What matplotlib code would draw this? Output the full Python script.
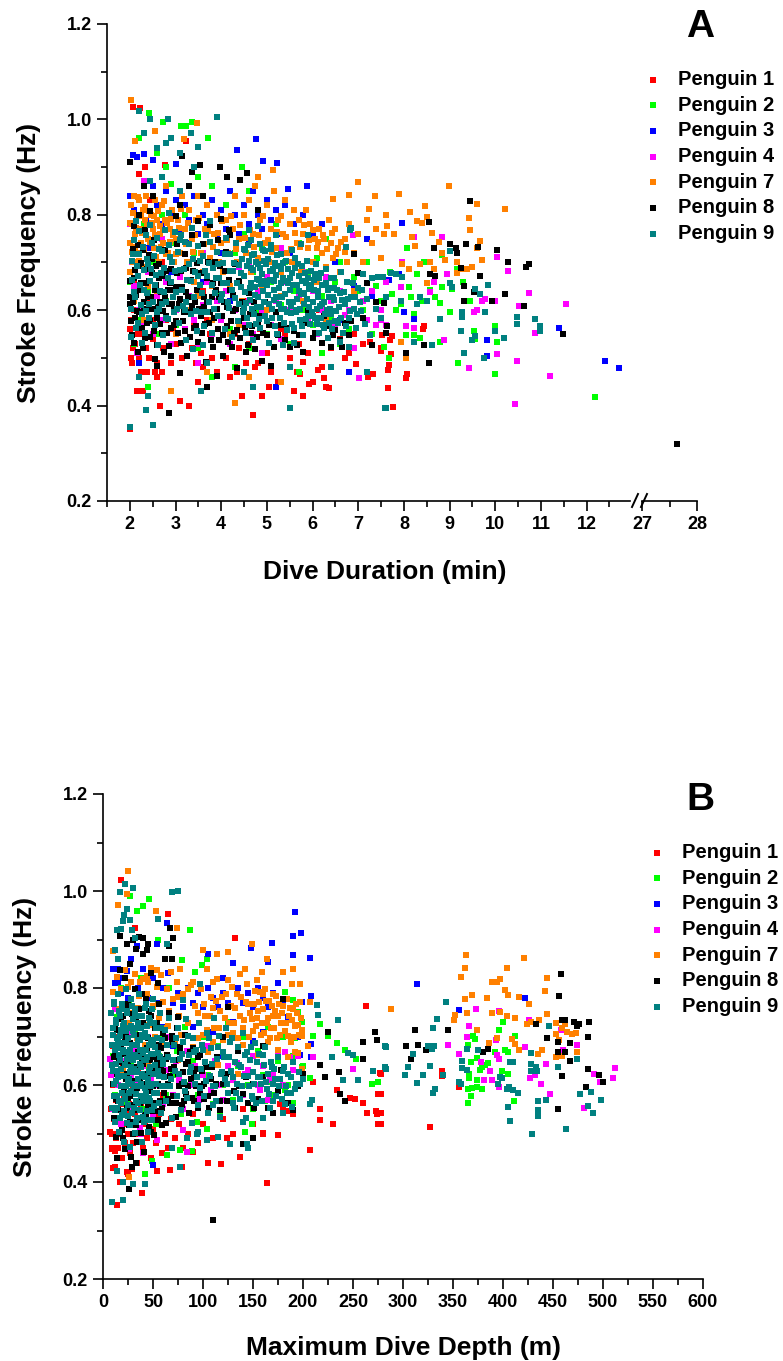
import numpy as np
import matplotlib
matplotlib.use('Agg')
import matplotlib.pyplot as plt
from matplotlib.lines import Line2D
from matplotlib.ticker import MultipleLocator

plt.rcParams['font.family'] = ['Liberation Sans', 'DejaVu Sans']
plt.rcParams['font.weight'] = 'bold'

penguins = ['Penguin 1', 'Penguin 2', 'Penguin 3', 'Penguin 4', 'Penguin 7', 'Penguin 8', 'Penguin 9']
colors = ['#ff0000', '#00ff00', '#0000ff', '#ff00ff', '#ff8000', '#000000', '#008080']

# ---- panel A: (dive duration min, stroke frequency Hz) ----
dur_p1 = [(2.06,1.025),(2.23,1.023),(2.33,.9),(2.77,.905),(3.23,.954),(2.2,.885),(2.45,.83),
    (2.0,.35),(2.0,.56),(2.02,.5),(2.05,.49),(2.1,.6),(2.12,.53),(2.15,.43),(2.2,.5),(2.25,.47),(2.28,.43),(2.3,.55),
    (2.35,.52),(2.38,.47),(2.42,.5),(2.5,.54),(2.55,.47),(2.6,.46),(2.65,.4),(2.7,.47),(2.72,.52),(2.8,.58),(2.9,.49),
    (2.95,.56),(3.0,.53),(3.1,.41),(3.15,.5),(3.3,.4),(3.35,.52),(3.4,.57),(3.5,.45),(3.55,.51),(3.6,.48),(3.75,.55),
    (3.8,.5),(3.9,.47),(4.0,.58),(4.1,.5),(4.2,.46),(4.3,.55),(4.4,.52),(4.45,.42),(4.55,.49),(4.6,.53),(4.7,.38),
    (4.75,.48),(4.8,.49),(4.9,.42),(4.95,.6),(5.0,.51),(5.1,.47),(5.2,.44),(5.25,.45),(5.3,.56),(5.5,.5),(5.6,.43),
    (5.7,.53),(5.79,.492),(5.72,.467),(5.93,.446),(6.11,.474),(6.26,.457),(6.37,.436),(6.95,.488),(7.21,.46),(5.8,.42),
    (5.9,.51),(6.0,.45),(6.1,.55),(6.2,.48),(6.3,.44),(6.4,.52),(6.5,.57),(6.6,.54),(6.7,.5),(6.8,.51),(6.9,.55),
    (7.1,.53),(7.25,.534),(7.69,.537),(7.65,.474),(8.05,.457),(8.42,.56),(7.33,.467),(7.5,.52),(7.66,.437),(7.77,.397),
    (7.53,.548),(7.75,.545),(7.71,.508),(8.44,.567),(7.67,.485),(8.07,.467),(7.49,.515),
    (2.4,.62),(3.0,.6),(3.6,.64),(4.5,.62),(5.5,.6),(2.1,.66),(2.7,.7),(2.03,.58),(2.08,.52),(2.18,.55),(2.5,.58),
    (3.2,.56),(3.7,.58),(4.15,.56),(4.85,.56),(5.4,.55),(6.15,.6),(2.6,.49),(3.45,.49),(4.35,.47),(5.05,.44),(5.65,.47)]
dur_p2 = [(2.42,1.014),(2.73,.995),(3.13,.986),(3.24,.986),(3.35,.995),(3.71,.96),(2.2,.96),(2.6,.93),(2.8,.9),
    (3.5,.88),(4.45,.9),(2.9,.865),(3.8,.86),(4.6,.85),(2.4,.44),(3.8,.46),(4.3,.48),(5.7,.47),(6.2,.51),(6.6,.53),(2.1,.53),
    (2.0,.66),(2.1,.72),(2.2,.58),(2.3,.78),(2.4,.64),(2.5,.7),(2.6,.55),(2.7,.8),(2.8,.62),(2.9,.74),(3.0,.57),(3.1,.68),
    (3.2,.8),(3.3,.6),(3.4,.72),(3.5,.52),(3.6,.66),(3.7,.78),(3.8,.58),(3.9,.7),(4.0,.63),(4.1,.82),(4.2,.56),(4.3,.72),
    (4.4,.66),(4.5,.76),(4.6,.52),(4.7,.68),(4.8,.6),(4.9,.73),(5.0,.55),(5.1,.66),(5.2,.78),(5.3,.61),(5.4,.7),(5.5,.53),
    (5.6,.64),(5.7,.74),(5.8,.6),(5.9,.68),(6.0,.57),(6.1,.71),(6.2,.63),(6.3,.75),(6.4,.58),(6.5,.66),(6.6,.7),(6.7,.62),
    (6.8,.56),(6.9,.67),(7.0,.64),(7.1,.6),(7.2,.7),(7.3,.55),(7.4,.65),(7.5,.62),(7.6,.57),(7.7,.68),
    (8.07,.731),(8.84,.716),(8.44,.701),(8.29,.675),(8.11,.649),(9.16,.686),(8.58,.642),(8.84,.649),(9.05,.645),
    (8.69,.627),(8.8,.616),(8.15,.627),(8.4,.619),(7.93,.612),(9.02,.597),(8.22,.593),(7.82,.6),(8.04,.548),(8.22,.548),
    (8.36,.541),(8.8,.534),(9.53,.556),(9.56,.54),(10.0,.567),(10.04,.534),(10.0,.467),(9.19,.489),(12.18,.417),
    (7.56,.522),(7.67,.5),(7.75,.634),(9.3,.66),(9.45,.62)]
dur_p3 = [(2.07,.925),(2.15,.922),(2.31,.927),(2.51,.915),(3.0,.906),(4.34,.936),(4.77,.958),(4.91,.912),(5.23,.908),
    (5.47,.854),(5.88,.861),(2.0,.84),(2.1,.81),(2.2,.83),(2.35,.79),(2.5,.86),(2.6,.82),(2.7,.78),(2.8,.85),(2.9,.8),
    (3.0,.83),(3.1,.77),(3.2,.82),(3.3,.79),(3.4,.84),(3.5,.76),(3.6,.8),(3.7,.78),(3.8,.83),(3.9,.76),(4.0,.81),(4.1,.77),
    (4.2,.85),(4.3,.8),(4.4,.76),(4.5,.82),(4.6,.78),(4.7,.85),(4.8,.8),(4.9,.77),(5.0,.83),(5.1,.79),(5.2,.81),(5.3,.76),
    (5.4,.82),(5.6,.78),(5.8,.8),(6.0,.76),(6.2,.78),(6.5,.7),(6.9,.65),(7.2,.75),(7.5,.67),(3.3,.74),(4.0,.72),(4.6,.74),
    (5.5,.72),(3.8,.7),(2.4,.73),(2.2,.49),(5.2,.44),(6.8,.47),(3.6,.66),(4.2,.62),(5.0,.6),(2.9,.68),(6.3,.6),
    (7.67,.664),(7.89,.675),(7.96,.782),(8.0,.597),(8.22,.582),(8.57,.638),(9.82,.537),(9.82,.504),(11.4,.563),
    (12.4,.493),(12.71,.478),(7.3,.63),(6.6,.58)]
dur_p4 = [(2.0,.78),(2.02,.82),(2.05,.7),(2.1,.65),(2.15,.51),(2.2,.6),(2.25,.57),(2.3,.87),(2.4,.68),(2.5,.55),
    (2.6,.63),(2.7,.58),(2.8,.66),(2.9,.53),(3.0,.6),(3.1,.67),(3.2,.56),(3.3,.63),(3.4,.58),(3.5,.53),(3.6,.61),(3.7,.66),
    (3.8,.55),(3.9,.62),(4.0,.58),(4.1,.64),(4.2,.53),(4.3,.6),(4.4,.69),(4.5,.57),(4.6,.62),(4.7,.55),(4.8,.64),(4.9,.6),
    (5.0,.67),(5.1,.57),(5.2,.62),(5.3,.54),(5.4,.66),(5.5,.6),(5.6,.56),(5.7,.63),(5.8,.68),(5.9,.58),(6.0,.64),(6.1,.55),
    (6.2,.6),(6.3,.67),(6.4,.62),(6.5,.57),(6.6,.64),(6.7,.59),(6.8,.6),(6.89,.757),(7.01,.457),(7.1,.62),(7.2,.58),
    (7.3,.64),(7.4,.57),(7.5,.6),(7.6,.66),(3.6,.72),(4.6,.7),(5.3,.73),(2.7,.75),(3.5,.49),(4.9,.51),(6.9,.52),
    (8.22,.753),(8.84,.753),(7.96,.701),(8.95,.675),(10.04,.712),(10.29,.683),(10.73,.636),(10.51,.608),(11.54,.612),
    (9.71,.619),(9.78,.623),(10.0,.62),(9.6,.6),(9.53,.597),(8.65,.66),(8.58,.638),(7.93,.649),(8.04,.567),(8.22,.563),
    (10.87,.552),(8.87,.537),(9.42,.478),(10.04,.508),(10.47,.493),(11.2,.463),(10.44,.403),(7.5,.58),(7.6,.57)]
dur_p7 = [(2.02,1.041),(2.55,.975),(2.12,.954),(3.18,.958),(3.48,.992),(5.14,.893),(4.8,.88),(6.99,.869),(6.8,.841),
    (6.45,.834),(7.24,.813),(7.36,.839),(4.3,.405),(4.6,.46),(5.3,.45),(2.9,.43),(3.7,.47),
    (2.0,.74),(2.02,.82),(2.05,.78),(2.08,.7),(2.1,.84),(2.12,.76),(2.15,.8),(2.18,.72),(2.2,.83),(2.22,.77),(2.25,.74),
    (2.28,.81),(2.3,.69),(2.33,.79),(2.36,.84),(2.4,.75),(2.43,.71),(2.46,.8),(2.5,.77),(2.53,.73),(2.56,.83),(2.6,.79),
    (2.63,.7),(2.66,.76),(2.7,.82),(2.73,.74),(2.76,.79),(2.8,.86),(2.84,.72),(2.88,.77),(2.92,.81),(2.96,.7),(3.0,.75),
    (3.05,.79),(3.1,.72),(3.15,.84),(3.2,.77),(3.25,.7),(3.3,.81),(3.35,.75),(3.4,.66),(3.45,.79),(3.5,.84),(3.55,.72),
    (3.6,.68),(3.65,.77),(3.7,.82),(3.75,.71),(3.8,.65),(3.85,.76),(3.9,.8),(3.95,.7),(4.0,.74),(4.05,.68),(4.1,.79),
    (4.15,.72),(4.2,.65),(4.25,.77),(4.3,.84),(4.35,.7),(4.4,.75),(4.45,.62),(4.5,.8),(4.55,.72),(4.6,.83),(4.65,.68),
    (4.7,.76),(4.75,.86),(4.8,.71),(4.85,.79),(4.9,.65),(4.95,.74),(5.0,.82),
    (5.05,.7),(5.1,.77),(5.15,.85),(5.2,.73),(5.25,.79),(5.3,.68),(5.35,.76),(5.4,.83),(5.45,.72),(5.5,.78),(5.55,.7),
    (5.6,.81),(5.65,.74),(5.7,.79),(5.75,.68),(5.8,.76),(5.85,.81),(5.9,.73),(5.95,.78),(6.0,.7),(6.05,.75),(6.1,.73),
    (6.15,.77),(6.2,.72),(6.25,.75),(6.3,.69),(6.35,.79),(6.4,.74),(6.45,.71),(6.5,.77),(6.55,.73),(6.6,.68),(6.7,.75),
    (6.75,.7),(6.8,.78),(6.9,.72),(7.0,.76),(7.1,.7),(7.2,.79),(7.3,.74),(7.4,.77),(7.5,.71),(7.6,.8),
    (2.1,.62),(2.3,.58),(2.6,.64),(3.0,.55),(3.3,.6),(3.8,.58),(4.2,.55),(5.0,.6),(5.8,.62),(6.3,.58),(2.0,.68),(2.4,.65),
    (3.5,.63),(4.4,.57),(5.3,.63),(6.1,.66),(6.9,.64),
    (2.01,.783),(2.04,.722),(2.07,.803),(2.11,.733),(2.14,.772),(2.17,.838),(2.21,.703),(2.24,.797),(2.27,.762),
    (2.31,.728),(2.34,.817),(2.38,.778),(2.41,.807),(2.45,.743),(2.48,.782),(2.52,.798),(2.55,.757),(2.58,.712),
    (2.62,.808),(2.65,.777),(2.69,.732),(2.72,.768),(2.75,.828),(2.79,.718),(2.82,.783),(2.87,.742),(2.9,.792),
    (2.95,.758),(3.02,.717),(3.08,.772),(3.12,.812),(3.22,.738),(3.28,.783),(3.38,.722),(3.42,.757),(3.52,.793),
    (3.62,.738),(3.72,.767),(3.82,.733),(3.92,.762),(4.02,.787),(4.12,.748),(4.22,.798),(4.32,.728),(4.42,.778),
    (4.52,.752),(4.62,.768),(4.72,.733),(4.82,.757),(4.92,.797),(5.02,.748),(5.12,.722),(5.22,.763),(5.32,.797),
    (5.42,.753),(5.52,.728),(5.62,.762),(5.72,.733),(5.82,.778),(5.92,.748),(6.02,.768),(6.12,.742),(6.22,.757),
    (6.32,.728),(6.42,.762),(6.52,.718),(6.62,.742),(6.72,.723),
    (7.89,.843),(8.98,.861),(8.47,.819),(8.13,.805),(8.29,.787),(8.4,.783),(8.51,.796),(9.6,.822),(10.22,.813),
    (9.42,.794),(9.45,.768),(9.67,.746),(9.6,.731),(9.71,.705),(8.62,.761),(8.76,.742),(8.84,.72),(8.91,.705),(8.18,.753),
    (8.25,.735),(8.36,.697),(7.96,.697),(8.11,.686),(8.58,.701),(8.65,.686),(9.16,.7),(9.27,.686),(9.38,.686),(9.49,.69),
    (9.16,.679),(8.51,.656),(7.93,.534),(8.04,.5),(7.56,.76),(7.64,.777),(7.78,.76)]
dur_p8 = [(2.0,.91),(3.15,.923),(3.35,.89),(3.53,.904),(3.97,.9),(4.12,.88),(4.41,.873),(4.57,.887),(2.85,.385),
    (3.7,.44),(2.5,.84),(2.3,.86),(3.3,.86),(3.1,.82),(2.2,.8),(4.8,.81),(3.6,.84),
    (2.0,.662),(2.02,.578),(2.05,.703),(2.07,.617),(2.1,.532),(2.12,.684),(2.15,.598),(2.18,.737),(2.2,.563),
    (2.22,.642),(2.25,.698),(2.28,.521),(2.3,.603),(2.33,.768),(2.35,.657),(2.38,.574),(2.4,.628),(2.43,.716),
    (2.45,.543),(2.48,.677),(2.5,.602),(2.53,.748),(2.55,.497),(2.58,.653),(2.6,.583),(2.63,.697),(2.66,.618),
    (2.7,.553),(2.73,.672),(2.76,.727),(2.8,.588),(2.83,.643),(2.86,.524),(2.9,.687),(2.93,.612),(2.96,.568),
    (3.0,.648),(3.03,.738),(3.06,.552),(3.1,.623),(3.13,.682),(3.16,.577),(3.2,.717),(3.23,.638),(3.26,.503),
    (3.3,.597),(3.33,.663),(3.36,.757),(3.4,.562),(3.43,.617),(3.46,.698),(3.5,.534),(3.53,.652),(3.56,.587),
    (3.6,.738),(3.63,.607),(3.66,.492),(3.7,.668),(3.73,.573),(3.76,.778),(3.8,.627),(3.83,.522),(3.86,.702),
    (3.9,.603),(3.93,.747),(3.96,.538),(4.0,.657),(4.03,.503),(4.06,.618),(4.1,.722),(4.13,.567),(4.16,.768),
    (4.2,.642),(4.23,.523),(4.26,.598),(4.3,.697),(4.35,.558),(4.4,.662),(4.45,.617),(4.5,.583),(4.55,.512),
    (4.6,.637),(4.65,.553),(4.7,.602),(4.75,.518),(4.8,.572),(4.9,.493),(4.95,.618),(5.0,.547),(5.1,.482),
    (5.15,.523),(5.2,.597),(5.3,.568),(5.4,.538),(5.5,.522),(5.6,.557),(5.7,.548),(5.8,.513),(5.9,.598),(6.0,.542),
    (6.1,.577),(6.2,.532),(6.3,.567),(6.4,.523),(6.5,.558),(6.6,.537),(6.7,.573),(6.8,.548),(6.9,.717),(7.0,.678),
    (7.1,.583),(7.2,.657),(7.3,.528),(7.4,.618),(2.0,.628),(2.1,.777),(2.45,.808),(3.0,.797),(3.5,.788),(4.0,.792),
    (4.2,.757),(2.6,.482),(3.1,.468),(3.9,.463),(4.35,.478),(2.9,.503),
    (2.01,.613),(2.04,.548),(2.06,.728),(2.09,.668),(2.11,.583),(2.14,.632),(2.17,.512),(2.19,.693),(2.21,.597),
    (2.24,.657),(2.27,.563),(2.29,.727),(2.32,.618),(2.34,.541),(2.37,.687),(2.39,.603),(2.42,.662),(2.44,.577),
    (2.47,.628),(2.49,.708),(2.52,.557),(2.54,.643),(2.57,.692),(2.59,.528),(2.62,.607),(2.64,.668),(2.67,.572),
    (2.69,.638),(2.72,.598),(2.74,.513),(2.77,.627),(2.79,.683),(2.82,.552),(2.85,.613),(2.87,.657),(2.91,.563),
    (2.94,.642),(2.97,.602),(3.01,.578),(3.04,.677),(3.08,.612),(3.11,.532),(3.15,.648),(3.18,.597),(3.21,.557),
    (3.24,.688),(3.28,.627),(3.31,.543),(3.35,.608),(3.38,.683),(3.41,.598),(3.45,.566),(3.48,.642),(3.52,.603),
    (3.55,.678),(3.58,.553),(3.62,.628),(3.65,.572),(3.68,.617),(3.72,.702),(3.75,.596),(3.78,.538),(3.82,.657),
    (3.85,.583),(3.88,.643),(3.92,.561),(3.95,.627),(3.98,.692),(4.02,.588),(4.05,.547),(4.08,.682),(4.12,.607),
    (4.15,.533),(4.18,.663),(4.22,.578),(4.25,.632),(4.28,.552),(4.32,.603),(4.38,.577),(4.42,.542),(4.48,.598),
    (4.52,.563),(4.58,.528),(4.62,.592),(4.68,.567),(4.72,.618),(4.78,.543),(4.85,.588),(4.92,.553),(5.05,.568),
    (5.25,.547),(5.45,.562),(5.65,.528),(5.85,.573),(6.05,.552),(6.25,.588),(6.45,.547),(6.65,.523),(6.85,.578),
    (9.45,.829),(8.56,.785),(9.02,.738),(9.13,.731),(9.16,.72),(9.35,.738),(9.62,.732),(10.04,.727),(10.27,.7),
    (10.67,.69),(10.74,.696),(9.67,.671),(9.24,.689),(8.65,.731),(7.96,.67),(8.58,.675),(8.69,.671),(9.31,.65),
    (9.31,.619),(9.93,.619),(10.22,.634),(10.63,.608),(9.53,.638),(11.49,.551),(8.44,.528),(8.04,.511),(8.56,.489),
    (7.64,.567),(7.6,.552),(7.56,.615),(27.64,.32)]
dur_p9 = [(2.2,1.017),(2.45,1.0),(2.84,1.0),(3.9,1.005),(2.31,.971),(3.34,.971),(3.5,.943),(2.8,.95),(2.9,.96),
    (3.1,.93),(2.6,.94),(2.0,.355),(2.5,.36),(2.35,.39),(2.4,.42),(2.2,.46),(3.55,.43),(3.7,.49),(4.5,.47),(4.7,.44),
    (5.5,.395),(5.5,.48),(6.4,.48),(7.58,.394),(7.2,.47),(2.45,.87),(3.1,.85),(3.4,.9),(2.7,.88),
    (2.02,.603),(2.05,.664),(2.08,.718),(2.1,.747),(2.12,.627),(2.15,.692),(2.18,.574),(2.2,.766),(2.22,.653),
    (2.25,.611),(2.28,.733),(2.3,.684),(2.33,.552),(2.35,.758),(2.38,.636),(2.4,.697),(2.42,.583),(2.45,.662),
    (2.48,.741),(2.5,.618),(2.03,.544),(2.14,.787),(2.26,.531),(2.36,.598),(2.44,.779),
    (2.52,.713),(2.55,.568),(2.58,.674),(2.6,.752),(2.63,.603),(2.66,.641),(2.7,.724),(2.72,.547),(2.75,.688),
    (2.78,.769),(2.8,.617),(2.83,.582),(2.86,.737),(2.9,.659),(2.93,.702),(2.96,.596),(2.98,.763),(2.61,.528),
    (2.85,.804),(2.71,.612),
    (3.02,.638),(3.05,.722),(3.08,.573),(3.1,.684),(3.13,.757),(3.16,.609),(3.2,.743),(3.23,.538),(3.26,.663),
    (3.3,.696),(3.33,.592),(3.36,.772),(3.4,.628),(3.43,.681),(3.46,.557),(3.5,.734),(3.21,.601),(3.38,.519),
    (3.53,.652),(3.56,.597),(3.6,.713),(3.63,.566),(3.66,.758),(3.7,.672),(3.73,.618),(3.76,.744),(3.8,.553),
    (3.83,.689),(3.86,.637),(3.9,.721),(3.93,.588),(3.96,.668),(3.61,.527),(3.75,.787),
    (4.02,.634),(4.05,.698),(4.08,.561),(4.1,.752),(4.13,.657),(4.16,.604),(4.2,.717),(4.23,.543),(4.26,.683),
    (4.3,.626),(4.33,.741),(4.36,.578),(4.4,.694),(4.43,.648),(4.46,.708),(4.48,.597),
    (4.5,.672),(4.52,.727),(4.55,.616),(4.57,.583),(4.6,.703),(4.62,.646),(4.65,.748),(4.67,.602),(4.7,.684),
    (4.72,.718),(4.75,.632),(4.77,.571),(4.8,.697),(4.82,.663),(4.85,.738),(4.87,.607),(4.9,.676),(4.92,.641),
    (4.95,.724),(4.97,.588),(4.55,.553),(4.7,.537),(4.85,.562),(4.6,.768),(4.8,.776),(4.65,.689),(4.78,.666),(4.93,.703),
    (5.0,.653),(5.02,.707),(5.05,.612),(5.07,.683),(5.1,.737),(5.12,.584),(5.15,.661),(5.17,.698),(5.2,.628),
    (5.22,.551),(5.25,.692),(5.27,.647),(5.3,.603),(5.32,.718),(5.35,.668),(5.37,.573),(5.4,.634),(5.42,.703),
    (5.45,.597),(5.47,.657),(5.05,.532),(5.2,.758),(5.35,.527),(5.15,.621),(5.3,.687),
    (5.5,.643),(5.52,.594),(5.55,.678),(5.57,.617),(5.6,.563),(5.62,.709),(5.65,.652),(5.67,.601),(5.7,.672),
    (5.72,.579),(5.75,.633),(5.77,.692),(5.8,.548),(5.82,.613),(5.85,.658),(5.87,.703),(5.9,.588),(5.92,.644),
    (5.95,.571),(5.97,.682),(5.6,.531),(5.75,.738),(5.9,.757),(5.55,.727),
    (6.0,.618),(6.03,.664),(6.05,.583),(6.08,.697),(6.1,.602),(6.13,.641),(6.15,.553),(6.18,.679),(6.2,.613),
    (6.23,.568),(6.25,.652),(6.28,.592),(6.3,.687),(6.33,.542),(6.35,.628),(6.38,.603),(6.4,.668),(6.43,.561),
    (6.46,.622),(6.48,.647),
    (6.52,.598),(6.55,.573),(6.6,.637),(6.63,.681),(6.67,.552),(6.7,.614),(6.75,.659),(6.8,.584),(6.85,.772),
    (6.85,.628),(6.9,.603),(6.95,.562),(7.0,.647),(7.05,.598),(7.1,.676),(7.15,.571),(7.2,.623),(7.3,.668),(7.4,.602),
    (7.5,.583),(7.6,.628),(6.6,.534),(6.8,.522),(7.25,.548),(6.81,.768),(6.74,.733),(7.43,.67),(7.55,.67),
    (4.51,.604),(4.53,.638),(4.56,.693),(4.58,.737),(4.61,.568),(4.63,.622),(4.66,.657),(4.68,.716),(4.71,.593),
    (4.73,.649),(4.76,.702),(4.78,.607),(4.81,.628),(4.83,.582),(4.86,.688),(4.88,.654),(4.91,.726),(4.94,.617),
    (4.96,.662),(4.99,.697),(5.01,.577),(5.03,.632),(5.06,.664),(5.08,.728),(5.11,.603),(5.13,.686),(5.16,.642),
    (5.18,.567),(5.21,.673),(5.23,.716),(5.26,.612),(5.28,.583),(5.31,.657),(5.33,.627),(5.36,.698),(5.38,.603),
    (5.41,.662),(5.43,.558),(5.46,.687),(5.48,.618),(5.51,.667),(5.53,.608),(5.56,.572),(5.58,.653),(5.61,.688),
    (5.63,.597),(5.66,.623),(5.68,.697),(5.71,.641),(5.73,.603),(5.76,.566),(5.78,.662),(5.81,.637),(5.83,.678),
    (5.86,.582),(5.88,.624),(5.91,.668),(5.93,.607),(5.96,.652),(5.98,.597),(6.01,.587),(6.04,.643),(6.06,.676),
    (6.09,.572),(6.11,.628),(6.14,.667),(6.16,.608),(6.19,.583),(6.21,.652),(6.24,.618),(6.26,.563),(6.29,.658),
    (6.31,.601),(6.34,.642),(6.36,.573),(6.39,.647),(6.41,.592),(6.44,.628),(6.47,.668),(6.49,.577),(6.53,.642),
    (6.57,.607),(6.62,.583),(6.65,.622),(6.69,.638),(6.73,.567),(6.78,.623),(6.83,.598),(6.88,.657),(6.93,.628),
    (6.98,.592),(7.03,.618),(7.08,.643),
    (2.04,.703),(2.09,.638),(2.13,.562),(2.17,.672),(2.21,.718),(2.27,.593),(2.32,.643),(2.37,.708),(2.41,.612),
    (2.47,.687),(2.54,.652),(2.59,.597),(2.64,.728),(2.68,.678),(2.74,.638),(2.79,.583),(2.84,.668),(2.88,.712),
    (2.94,.627),(2.99,.682),(3.04,.603),(3.09,.748),(3.14,.642),(3.19,.687),(3.24,.617),(3.29,.738),(3.34,.662),
    (3.39,.707),(3.44,.598),(3.49,.672),(3.54,.703),(3.59,.637),(3.64,.683),(3.69,.597),(3.74,.698),(3.79,.652),
    (3.84,.603),(3.89,.668),(3.94,.697),(3.99,.622),(4.04,.658),(4.09,.717),(4.14,.618),(4.19,.683),(4.24,.642),
    (4.29,.698),(4.34,.657),(4.39,.613),(4.44,.677),(4.49,.728),
    (7.71,.679),(7.82,.675),(7.95,.67),(9.02,.724),(9.85,.653),(9.67,.634),(9.78,.597),(9.55,.645),(9.27,.597),
    (9.27,.586),(10.47,.586),(10.47,.571),(10.87,.582),(10.98,.567),(10.98,.556),(9.24,.556),(10.0,.556),(9.49,.537),
    (9.56,.545),(10.2,.541),(8.62,.526),(8.22,.534),(9.32,.511),(9.75,.5),(7.6,.394),(8.36,.627),(8.51,.619),(8.29,.612),
    (8.8,.582),(9.0,.656),(9.05,.649),(7.93,.619)]

# ---- panel B: (maximum dive depth m, stroke frequency Hz) ----
depth_p1 = [(18,1.023),(65,.953),(132,.904),(32,.924),(263,.762),(210,.606),(217,.528),(230,.52),(247,.574),
    (252,.572),(260,.562),(264,.542),(273,.546),(274,.541),(275,.519),(275,.582),(277,.625),(234,.59),(207,.465),
    (217,.55),(177,.56),(184,.546),(175,.496),(160,.502),(164,.397),(118,.437),(105,.439),(137,.451),(124,.491),
    (90,.461),(79,.431),(67,.425),(54,.423),(14,.352),(17,.4),(25,.416),(29,.427),(39,.377),(10,.428),(12,.463),(7,.503),
    (9,.469),(278,.623),(278,.582),(278,.542),(278,.519),(339,.629),(339,.618),(327,.513),(356,.596),
    (8,.55),(9,.47),(10,.6),(11,.5),(12,.43),(13,.57),(14,.53),(15,.47),(16,.62),(17,.5),(18,.56),(19,.45),(20,.52),
    (21,.58),(22,.48),(23,.54),(24,.42),(25,.5),(26,.56),(27,.46),(28,.52),(30,.48),(32,.54),(34,.44),(36,.5),(38,.56),
    (40,.47),(42,.52),(44,.49),(46,.55),(48,.45),(50,.51),(53,.48),(56,.54),(59,.46),(62,.5),(65,.47),(68,.53),(72,.49),
    (76,.52),(80,.47),(85,.5),(90,.54),(95,.48),(100,.52),(110,.49),(120,.53),(130,.5),(140,.55),(150,.52),(160,.5),
    (170,.57),(180,.55),(190,.54),(10,.68),(15,.7),(12,.66),(20,.64),(30,.6),(45,.62),(60,.58),(25,.65),(35,.63),
    (11,.53),(13,.49),(9,.5)]
depth_p2 = [(27,.99),(46,.984),(40,.969),(34,.958),(87,.919),(55,.899),(104,.859),(99,.847),(79,.858),(92,.832),
    (182,.792),(190,.776),(199,.729),(217,.725),(225,.701),(234,.687),(242,.673),(253,.653),(269,.602),(275,.606),
    (210,.701),(192,.697),(199,.638),(207,.614),(182,.59),(190,.562),(162,.566),(149,.519),(142,.503),(117,.542),
    (104,.509),(94,.523),(89,.463),(77,.467),(64,.455),(42,.417),(49,.443),(164,.606),
    (400,.729),(396,.713),(412,.702),(402,.673),(405,.668),(392,.668),(370,.702),(372,.694),(365,.683),(368,.647),
    (366,.622),(366,.615),(374,.655),(379,.637),(377,.63),(382,.641),(374,.61),(365,.591),(369,.594),(374,.596),
    (379,.592),(368,.578),(365,.562),(411,.568),(399,.629),(405,.623),(385,.645),
    (10,.66),(12,.58),(14,.74),(16,.53),(18,.8),(20,.62),(22,.69),(24,.56),(26,.77),(28,.64),(30,.5),(32,.71),(35,.6),
    (38,.82),(40,.55),(43,.68),(46,.63),(50,.76),(53,.52),(56,.66),(60,.7),(63,.58),(66,.8),(70,.62),(74,.67),(78,.54),
    (82,.72),(86,.6),(90,.65),(95,.58),(100,.7),(105,.62),(110,.56),(115,.68),(120,.6),(125,.73),(130,.57),(135,.64),
    (140,.7),(145,.6),(150,.55),(155,.67),(160,.62),(165,.72),(170,.58),(175,.65),(180,.7),(185,.6),(190,.66),
    (195,.75),(200,.64)]
depth_p3 = [(192,.957),(198,.913),(190,.907),(190,.869),(207,.861),(169,.893),(165,.853),(148,.883),(130,.852),
    (120,.821),(105,.871),(64,.935),(54,.891),(34,.886),(24,.835),(15,.812),(10,.839),(208,.784),(199,.771),(208,.685),
    (197,.661),(208,.657),(50,.435),(314,.809),(356,.755),(422,.78),
    (12,.81),(15,.84),(18,.79),(20,.82),(25,.78),(28,.86),(35,.8),(40,.84),(45,.78),(50,.82),(55,.77),(60,.8),(65,.83),
    (70,.77),(75,.79),(80,.76),(85,.8),(90,.77),(95,.79),(100,.76),(105,.8),(110,.78),(115,.76),(120,.79),(125,.77),
    (135,.8),(140,.77),(145,.79),(150,.76),(155,.8),(160,.78),(165,.76),(170,.79),(175,.81),(180,.77),(185,.74),
    (60,.72),(90,.72),(130,.73),(160,.71),(40,.7),(110,.71),(150,.69),(195,.7),(20,.72),(70,.68),(120,.66)]
depth_p4 = [(250,.633),(210,.657),(187,.657),(97,.578),(84,.461),(80,.507),(54,.487),(37,.511),(40,.459),(26,.469),
    (60,.645),(134,.645),(142,.622),(167,.61),(157,.59),(182,.669),(7,.653),(12,.756),
    (373,.756),(366,.722),(364,.699),(396,.752),(393,.693),(394,.661),(396,.653),(356,.664),(345,.683),(378,.647),
    (387,.628),(389,.61),(381,.61),(396,.596),(422,.679),(426,.734),(443,.643),(458,.714),(460,.673),(474,.683),
    (427,.615),(432,.62),(438,.602),(447,.582),(481,.552),(491,.623),(497,.607),(510,.614),(512,.636),
    (8,.62),(10,.55),(12,.68),(15,.6),(18,.52),(20,.65),(22,.58),(25,.71),(28,.62),(30,.55),(32,.67),(35,.6),(38,.5),
    (40,.64),(42,.57),(45,.7),(48,.61),(50,.54),(52,.66),(55,.6),(58,.68),(60,.56),(63,.63),(66,.7),(70,.58),(73,.65),
    (76,.61),(80,.55),(84,.67),(88,.6),(92,.64),(96,.57),(100,.62),(104,.68),(108,.59),(112,.65),(116,.6),(120,.57),
    (125,.64),(130,.61),(135,.67),(140,.58),(145,.63),(150,.66),(155,.6),(160,.64),(165,.57),(170,.62),(175,.66),
    (180,.6),(190,.63),(195,.66)]
depth_p7 = [(25,1.041),(24,.994),(15,.972),(10,.877),(53,.958),(74,.923),(77,.839),(100,.879),(114,.871),(125,.875),
    (142,.839),(149,.891),(164,.859),(180,.832),(190,.839),(189,.808),(197,.808),(207,.772),(288,.756),(205,.681),
    (199,.701),(192,.669),(199,.633),(159,.832),(154,.816),(125,.816),(137,.828),(110,.812),(104,.839),(90,.812),
    (54,.837),(44,.825),(37,.812),(26,.41),
    (363,.869),(362,.841),(358,.822),(404,.841),(421,.861),(444,.821),(442,.793),(389,.812),(394,.813),(397,.818),
    (402,.796),(405,.786),(369,.786),(362,.778),(384,.78),(416,.782),(426,.768),(352,.744),(351,.733),(364,.748),
    (374,.713),(389,.748),(397,.751),(404,.742),(412,.739),(424,.726),(428,.729),(444,.747),(436,.733),(453,.728),
    (459,.717),(462,.725),(464,.709),(469,.705),(473,.707),(453,.705),(409,.694),(412,.685),(416,.673),(394,.697),
    (386,.687),(435,.663),(439,.673),(456,.693),(453,.657),(459,.659),(474,.669),
    (10,.792),(12,.718),(14,.823),(16,.757),(18,.798),(20,.703),(22,.837),(24,.768),(26,.727),(28,.812),(30,.748),
    (32,.828),(34,.697),(36,.783),(38,.742),(40,.818),(42,.682),(44,.787),(46,.723),(48,.842),(50,.762),(52,.698),
    (54,.803),(56,.738),(58,.827),(60,.772),(62,.717),(64,.797),(66,.753),(68,.832),(70,.778),(72,.688),(74,.813),
    (76,.743),(78,.703),(80,.788),(85,.728),(88,.807),(92,.762),(95,.697),(98,.798),(102,.743),(105,.668),(108,.782),
    (111,.718),(114,.818),(117,.752),(120,.692),(123,.787),(126,.727),(129,.803),(132,.758),(135,.697),(138,.782),
    (141,.733),(144,.808),(147,.748),(150,.712),(152,.793),(154,.738),(156,.772),(158,.703),(160,.757),(162,.798),
    (164,.727),(166,.773),(168,.718),(170,.787),(172,.753),(174,.697),(176,.768),(178,.728),(180,.763),(182,.712),
    (184,.778),(186,.742),(188,.688),(190,.757),(192,.722),(194,.748),(196,.703),(198,.738),(130,.707),(140,.683),
    (155,.662),(165,.688),(175,.672),(185,.658),(195,.667),(145,.768),(160,.787),(170,.743),(110,.758),(100,.703),
    (90,.678),(60,.683),(30,.662),(45,.643),(75,.652),(20,.628),(50,.603),(115,.642),(135,.622),
    (101,.767),(104,.713),(107,.742),(110,.688),(113,.773),(116,.717),(119,.782),(122,.738),(125,.703),(128,.762),
    (131,.727),(134,.788),(137,.743),(140,.718),(143,.772),(146,.698),(149,.737),(151,.768),(153,.722),(155,.753),
    (157,.792),(159,.728),(161,.707),(163,.773),(165,.738),(167,.697),(169,.762),(171,.717),(173,.783),(175,.742),
    (177,.703),(179,.748),(181,.778),(183,.727),(185,.702),(187,.758),(189,.733),(191,.698),(193,.768),(195,.723),
    (197,.772),(199,.713),(25,.803),(35,.758),(45,.812),(55,.767),(65,.722),(75,.782),(85,.797),(95,.748)]
depth_p8 = [(67,.923),(70,.903),(66,.887),(69,.859),(40,.903),(44,.879),(17,.907),(225,.709),(217,.641),(222,.617),
    (236,.626),(242,.568),(237,.582),(260,.689),(272,.71),(274,.693),(260,.653),(180,.778),(150,.491),(110,.322),
    (140,.479),(170,.542),(190,.549),(200,.622),
    (458,.829),(456,.784),(459,.735),(462,.735),(471,.73),(476,.726),(474,.721),(486,.729),(485,.699),(433,.726),
    (444,.697),(455,.689),(467,.687),(455,.669),(462,.669),(467,.649),(459,.618),(485,.633),(483,.596),(496,.62),
    (500,.607),(455,.55),(312,.713),(345,.714),(303,.681),(315,.683),(323,.673),(308,.653),(380,.669),(385,.675),
    (10,.603),(11,.532),(12,.662),(13,.492),(14,.713),(15,.567),(16,.618),(17,.838),(18,.683),(19,.508),(20,.742),
    (20.5,.587),(21,.643),(22,.468),(23,.698),(23.5,.553),(24,.622),(25,.768),(25.5,.517),(26,.657),(27,.578),
    (27.5,.452),(28,.722),(29,.608),(29.5,.498),(30,.683),(31,.548),(31.5,.797),(32,.632),(33,.738),(33.5,.482),
    (34,.593),(35,.662),(35.5,.528),(36,.757),(37,.612),(37.5,.502),(38,.703),(39,.572),(39.5,.643),(40,.728),
    (40.5,.462),(41,.598),(42,.672),(42.5,.533),(43,.778),(44,.618),(44.5,.557),(45,.697),(46,.513),(46.5,.652),
    (47,.588),(48,.742),(48.5,.547),(49,.628),(50,.682),(50.5,.497),(51,.603),(52,.718),(53,.562),(54,.648),(55,.527),
    (56,.768),(57,.598),(58,.677),(59,.553),(60,.628),(61,.583),(62,.697),(63,.522),(64,.662),(65,.603),(66,.748),
    (67,.562),(68,.632),(69,.688),(70,.577),(72,.652),(73,.533),(74,.717),(76,.598),(77,.668),(79,.558),(80,.627),
    (82,.703),(83,.582),(85,.647),(86,.542),(88,.612),(90,.677),(91,.568),(93,.633),(95,.552),(97,.662),(99,.598),
    (101,.572),(103,.638),(106,.553),(108,.612),(111,.583),(114,.657),(117,.548),(120,.603),(124,.568),(128,.627),
    (132,.553),(136,.598),(140,.582),(145,.562),(150,.603),(155,.572),(160,.617),(165,.553),(175,.588),(185,.562),
    (195,.597),
    (24,.89),(30,.9),(36,.905),(33,.88),(45,.89),(27,.85),(22,.82),(62,.86),(29,.43),(26,.385),(33,.44),(20,.49),
    (14,.45),(40,.87),(48,.83),(55,.81),(75,.74),(125,.76),(120,.7),(135,.67),(160,.68),(178,.63),
    (10.5,.657),(11.5,.718),(12.5,.572),(13.5,.623),(14.5,.548),(15.5,.647),(16.5,.502),(17.5,.737),(18.5,.598),
    (19.5,.663),(20.8,.543),(21.5,.698),(22.5,.612),(23.2,.757),(24.5,.573),(25.2,.648),(26.5,.523),(27.2,.687),
    (28.5,.602),(29.2,.747),(30.5,.558),(31.2,.638),(32.5,.703),(33.2,.518),(34.5,.668),(35.2,.597),(36.5,.723),
    (37.2,.563),(38.5,.653),(39.2,.787),(40.2,.603),(41.5,.538),(42.2,.708),(43.5,.622),(44.2,.677),(45.5,.568),
    (46.2,.752),(47.5,.628),(48.2,.503),(49.5,.692),(50.2,.598),(51.5,.657),(52.5,.547),(53.5,.728),(54.5,.603),
    (55.5,.683),(56.5,.568),(57.5,.642),(58.5,.517),(59.5,.707),(60.5,.597),(62.5,.653),(64.5,.572),(66.5,.618),
    (68.5,.702),(70.5,.637),(72.5,.563),(74.5,.623),(76.5,.678),(78.5,.602),(80.5,.567),(82.5,.643),(84.5,.597),
    (86.5,.668),(88.5,.573),(90.5,.622),(92.5,.598),(94.5,.657),(96.5,.583),(98.5,.628),(100.5,.602),(104.5,.578),
    (108.5,.638),(112.5,.603),(116.5,.567),(122.5,.623),(130.5,.588),(142.5,.617),(150.5,.553)]
depth_p9 = [(9,.358),(20,.363),(20,.4),(30,.396),(42,.396),(14,.423),(17,.998),(22,1.014),(30,1.006),(69,.998),
    (75,1.0),(24,.962),(21,.95),(20,.938),(27,.94),(32,.903),(29,.92),(18,.922),(14,.919),(12,.879),(15,.859),(55,.942),
    (64,.891),(80,.776),(97,.808),(214,.764),(215,.744),(229,.657),(235,.733),(245,.665),(250,.661),(240,.61),
    (255,.61),(270,.629),(282,.681),(282,.637),(209,.57),(207,.56),(189,.554),(182,.56),(145,.471),(144,.479),
    (127,.479),(104,.487),(84,.491),(94,.499),(77,.431),(69,.471),
    (343,.772),(334,.736),(330,.717),(331,.681),(325,.681),(329,.675),(310,.663),(305,.637),(302,.62),(283,.679),
    (283,.633),(320,.62),(314,.604),(327,.64),(330,.583),(332,.591),(340,.62),(359,.649),(359,.635),(358,.602),
    (356,.607),(364,.675),(364,.631),(375,.673),(395,.602),(397,.617),(399,.614),(407,.648),(410,.647),(406,.596),
    (410,.59),(415,.584),(404,.592),(405,.554),(407,.525),(428,.665),(428,.644),(428,.628),(434,.628),(433,.638),
    (435,.566),(435,.549),(435,.536),(443,.57),(455,.637),(446,.721),(429,.499),(463,.509),(474,.653),(477,.582),
    (488,.586),(485,.557),(490,.542),(498,.57),
    (8,.748),(9,.642),(10,.703),(10.5,.577),(11,.768),(11.5,.523),(12,.672),(12.5,.608),(13,.727),(13.5,.553),
    (14,.628),(14.5,.787),(15,.688),(15.5,.503),(16,.568),(16.5,.742),(17,.652),(17.5,.598),(18,.713),(18.5,.538),
    (19,.766),(19.5,.618),(20,.673),(20.5,.483),(21,.728),(21.5,.577),(22,.642),(22.5,.798),(23,.687),(23.5,.522),
    (24,.752),(24.5,.607),(25,.558),(25.5,.662),(26,.718),(26.5,.472),(27,.627),(27.5,.778),(28,.588),(28.5,.683),
    (29,.542),(29.5,.737),(30,.652),(30.5,.597),
    (31,.703),(31.5,.502),(32,.757),(32.5,.568),(33,.627),(33.5,.683),(34,.532),(34.5,.728),(35,.612),(35.5,.657),
    (36,.787),(36.5,.548),(37,.692),(37.5,.603),(38,.638),(38.5,.482),(39,.742),(39.5,.572),(40,.667),(40.5,.618),
    (41,.523),(41.5,.708),(42,.593),(42.5,.768),(43,.652),(43.5,.547),(44,.698),(44.5,.612),(45,.503),(45.5,.738),
    (46,.627),(46.5,.683),(47,.568),(47.5,.727),(48,.663),(48.5,.528),(49,.603),(49.5,.777),(50,.688),(50.5,.557),
    (52,.642),(52.5,.718),(54,.583),(54.5,.667),(56,.618),(56.5,.748),(58,.543),(58.5,.692),(60,.652),(60.5,.597),
    (62,.713),(63,.567),(65,.658),(66,.738),(68,.612),(69,.532),(71,.683),(72,.628),(74,.578),(75,.717),(77,.653),
    (78,.548),(80,.688),(81,.607),(83,.737),(84,.573),(86,.662),(87,.627),(89,.522),(90,.697),(92,.603),(93,.672),
    (95,.558),(96,.728),(98,.632),(99,.683),(101,.577),(102,.648),(104,.708),(105,.542),(107,.618),(108,.677),
    (110,.597),(111,.738),(113,.568),(114,.653),(116,.702),(117,.533),(119,.627),(120,.668),
    (122,.612),(123,.718),(125,.583),(126,.657),(128,.628),(129,.697),(131,.553),(132,.648),(134,.603),(135,.678),
    (137,.572),(138,.637),(140,.707),(141,.618),(143,.532),(144,.668),(146,.598),(147,.652),(149,.577),(150,.627),
    (152,.687),(153,.562),(155,.617),(156,.663),(158,.603),(159,.568),(161,.642),(162,.678),(164,.592),(165,.623),
    (167,.553),(168,.647),(170,.602),(171,.632),(173,.578),(175,.657),(177,.612),(179,.572),(181,.638),(183,.597),
    (185,.622),(188,.583),(190,.648),(193,.603),(196,.627),(200,.613),(140,.523),(160,.532),(180,.543),(115,.492),
    (95,.503),
    (8.5,.683),(9.5,.718),(9.2,.552),(10.2,.628),(10.8,.772),(11.2,.603),(11.8,.682),(12.2,.548),(12.8,.733),
    (13.2,.643),(13.8,.697),(14.2,.578),(14.8,.677),(15.2,.617),(15.8,.753),(16.2,.662),(16.8,.532),(17.2,.702),
    (17.8,.562),(18.2,.632),(18.8,.757),(19.2,.583),(19.8,.687),(20.2,.722),(20.8,.547),(21.2,.618),(21.8,.668),
    (22.2,.572),(22.8,.712),(23.2,.598),(23.8,.748),(24.2,.653),(24.8,.537),(25.2,.697),(25.8,.612),(26.2,.583),
    (26.8,.672),(27.2,.518),(27.8,.722),(28.2,.638),(28.8,.763),(29.2,.602),(29.8,.657),(30.2,.712),(30.8,.553),
    (31.2,.632),(31.8,.748),(32.2,.662),(32.8,.523),(33.2,.582),(33.8,.718),(34.2,.628),(34.8,.693),(35.2,.562),
    (35.8,.742),(36.2,.598),(36.8,.672),(37.2,.643),(37.8,.717),(38.2,.577),(38.8,.703),(39.2,.622),(39.8,.533),
    (40.2,.698),(40.8,.568),(41.2,.652),(41.8,.758),(42.2,.617),(42.8,.673),(43.2,.583),(43.8,.722),(44.2,.658),
    (44.8,.528),(45.2,.603),(45.8,.682),(46.2,.573),(46.8,.732),(47.2,.637),(47.8,.692),(48.2,.598),(48.8,.757),
    (49.2,.548),(49.8,.663),(50.2,.622),(50.8,.728),(51.2,.583),(51.8,.678),(53.2,.603),(53.8,.697),(55.2,.628),
    (55.8,.562),(57.2,.657),(57.8,.718),(59.2,.597),(59.8,.643),
    (61,.617),(64,.683),(67,.598),(70,.652),(73,.697),(76,.622),(79,.663),(82,.588),(85,.702),(88,.637),(91,.668),
    (94,.617),(97,.593),(100,.672),(103,.608),(106,.697),(109,.643),(112,.598),(115,.678),(118,.622),(121,.657),
    (124,.603),(127,.688),(130,.617),(133,.583),(136,.642),(139,.598),(142,.662),(145,.618),(148,.678),(151,.603),
    (154,.648),(157,.617),(160,.662),(163,.607),(166,.582),(169,.638),(172,.612),(176,.598),(180,.628),(184,.583),
    (188,.617),(192,.592),(197,.603),(110,.558),(130,.563),(150,.572),(170,.567)]

dur_sets = [dur_p1, dur_p2, dur_p3, dur_p4, dur_p7, dur_p8, dur_p9]
depth_sets = [depth_p1, depth_p2, depth_p3, depth_p4, depth_p7, depth_p8, depth_p9]

W, H = 783, 1361
fig = plt.figure(figsize=(W / 100, H / 100), dpi=100)

def box(left, bottom, right, top):
    # pixel box -> figure fraction
    return [left / W, (H - bottom) / H, (right - left) / W, (bottom - top) / H]

axL = fig.add_axes(box(107, 501, 630, 24))
axR = fig.add_axes(box(642, 501, 697, 24), sharey=axL)
axR.patch.set_visible(False)
axB = fig.add_axes(box(103, 1279, 703, 794))

msize = 19
handles = []
for pts, c, lab in zip(dur_sets, colors, penguins):
    arr = np.array(pts)
    main = arr[arr[:, 0] < 20]
    far = arr[arr[:, 0] >= 20]
    h = axL.scatter(main[:, 0], main[:, 1], s=msize, marker='s', color=c, linewidths=0, label=lab)
    if len(far):
        axR.scatter(far[:, 0], far[:, 1], s=msize, marker='s', color=c, linewidths=0, clip_on=False)
    handles.append(h)

for pts, c, lab in zip(depth_sets, colors, penguins):
    arr = np.array(pts)
    axB.scatter(arr[:, 0], arr[:, 1], s=msize, marker='s', color=c, linewidths=0, label=lab)

for ax in (axL, axR, axB):
    for side in ('top', 'right'):
        ax.spines[side].set_visible(False)
    ax.spines['left'].set_linewidth(1.2)
    ax.spines['bottom'].set_linewidth(1.2)
    ax.tick_params(which='major', direction='out', length=7, width=1.2, labelsize=13, pad=4)
    ax.tick_params(which='minor', direction='out', length=4, width=1.2)
    ax.set_ylim(0.2, 1.2)
    ax.yaxis.set_major_locator(MultipleLocator(0.2))
    ax.yaxis.set_minor_locator(MultipleLocator(0.1))

axL.set_xlim(1.5, 12.95)
axL.xaxis.set_minor_locator(MultipleLocator(0.5))
axL.set_xticks(range(2, 13))
axL.set_xticklabels([str(v) for v in range(2, 13)], fontweight='bold')

axR.set_xlim(27, 28)
axR.set_xticks([27, 28])
axR.set_xticklabels(['27', '28'], fontweight='bold')
axR.set_xticks([27.5], minor=True)
axR.spines['left'].set_visible(False)
axR.tick_params(axis='y', which='both', left=False, labelleft=False)

axB.set_xlim(0, 600)
axB.xaxis.set_minor_locator(MultipleLocator(25))
axB.set_xticks(range(0, 601, 50))
axB.set_xticklabels([str(v) for v in range(0, 601, 50)], fontweight='bold')

for ax in (axL, axB):
    ax.set_yticks([0.2, 0.4, 0.6, 0.8, 1.0, 1.2])
    ax.set_yticklabels(['0.2', '0.4', '0.6', '0.8', '1.0', '1.2'], fontweight='bold')
    ax.set_ylabel('Stroke Frequency (Hz)', fontsize=19, fontweight='bold', labelpad=18)

axB.set_xlabel('Maximum Dive Depth (m)', fontsize=19, fontweight='bold', labelpad=18)
fig.text(385 / W, 1 - 572 / H, 'Dive Duration (min)', fontsize=19, fontweight='bold',
         ha='center', va='center')

# axis break marks
for x0 in (632, 641):
    fig.add_artist(Line2D([x0 / W, (x0 + 6) / W], [1 - 507 / H, 1 - 494 / H],
                          transform=fig.transFigure, color='black', lw=1.4))

fig.text(700 / W, 1 - 27 / H, 'A', fontsize=28, fontweight='bold', ha='center', va='center')
fig.text(700 / W, 1 - 800 / H, 'B', fontsize=28, fontweight='bold', ha='center', va='center')

leg_kw = dict(loc='upper left', frameon=False,
              prop={'size': 14.5, 'weight': 'bold'}, handlelength=1.0, handletextpad=0.75,
              labelspacing=0.33, borderpad=0, borderaxespad=0, scatterpoints=1)
fig.legend(handles, penguins, bbox_to_anchor=(643 / W, 1 - 70 / H), **leg_kw)
fig.legend(handles, penguins, bbox_to_anchor=(647 / W, 1 - 843 / H), **leg_kw)

fig.savefig('out.png', dpi=100)
